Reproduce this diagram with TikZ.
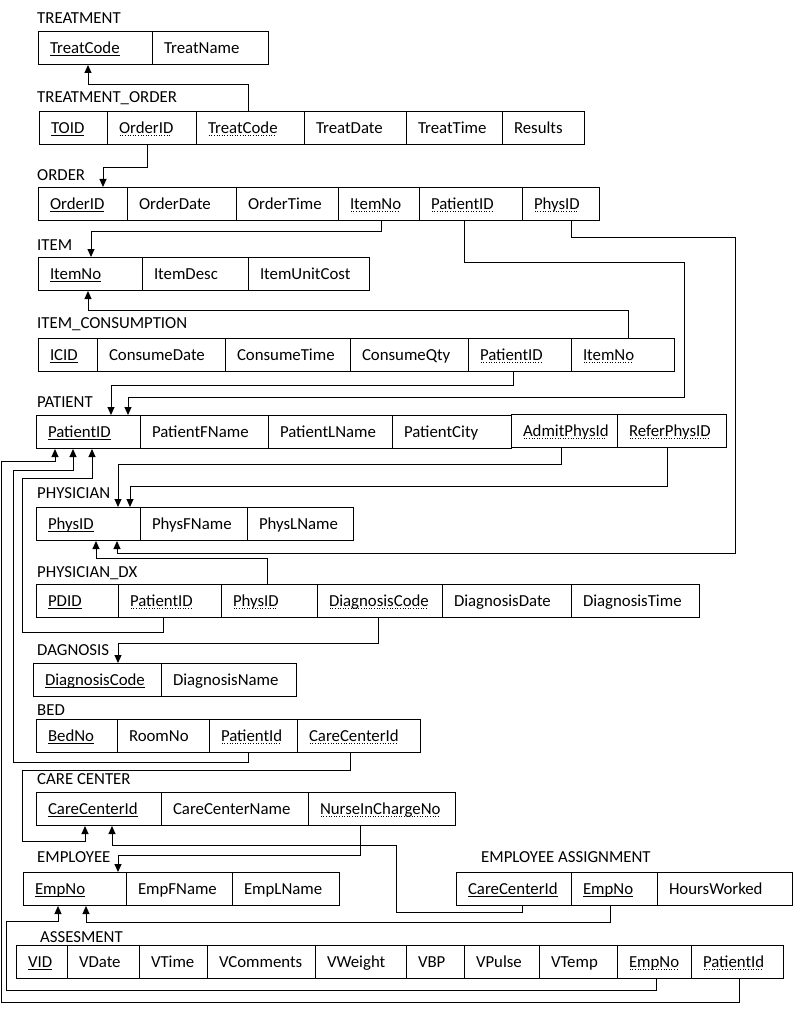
\documentclass[tikz,border=0pt]{standalone}
\usepackage{fontspec}
\setmainfont{Carlito}
\usetikzlibrary{arrows.meta}
\newsavebox\myulbox
\newcommand\pk[1]{\sbox\myulbox{#1}\rlap{\rule[-2.2pt]{\wd\myulbox}{0.8pt}}\usebox\myulbox}
\newcommand\fk[1]{\sbox\myulbox{#1}\rlap{\hbox to \wd\myulbox{\leaders\hbox to 2.6pt{\hss\rule[-2.6pt]{1pt}{0.8pt}\hss}\hfill}}\usebox\myulbox}
\newcommand\mycell[5]{%
  \pgfmathsetmacro\mycw{#3-#2}\pgfmathsetmacro\mytw{#3-#2-23}%
  \node[cellbox, minimum width=\mycw pt] (#1) at (#2,#4) {\hbox to \mytw pt{#5\hss}};}
\tikzset{
  cellbox/.style={draw, line width=1pt, anchor=north west, minimum height=33pt,
    inner xsep=11.5pt, inner ysep=0pt, text height=11pt, text depth=0pt,
    font=\fontsize{16.8}{18}\selectfont},
  ttl/.style={anchor=base west, inner sep=0pt, font=\fontsize{16.8}{18}\selectfont},
  link/.style={line width=1pt, -{Triangle[width=7pt,length=8pt]}}
}
\begin{document}
\begin{tikzpicture}[x=1pt,y=-1pt]
\useasboundingbox (0,0) rectangle (797,1024);
% titles
\node[ttl] (t-tr) at (37,24) {TREATMENT};
\node[ttl] (t-to) at (37,102.5) {TREATMENT\_ORDER};
\node[ttl] (t-or) at (37,180.5) {ORDER};
\node[ttl] (t-it) at (37,250.5) {ITEM};
\node[ttl] (t-ic) at (37,328.5) {ITEM\_CONSUMPTION};
\node[ttl] (t-pa) at (37,407.5) {PATIENT};
\node[ttl] (t-ph) at (37,498.5) {PHYSICIAN};
\node[ttl] (t-dx) at (37,577.5) {PHYSICIAN\_DX};
\node[ttl] (t-dg) at (37,655.5) {DAGNOSIS};
\node[ttl] (t-bd) at (37,715.5) {BED};
\node[ttl] (t-cc) at (37,784.5) {CARE CENTER};
\node[ttl] (t-em) at (37,862.5) {EMPLOYEE};
\node[ttl] (t-ea) at (481,862.5) {EMPLOYEE ASSIGNMENT};
\node[ttl] (t-as) at (40,942.5) {ASSESMENT};
% TREATMENT
\mycell{tr-tc}{38}{152}{31}{\pk{TreatCode}}
\mycell{tr-tn}{152}{268}{31}{TreatName}
% TREATMENT_ORDER
\mycell{to-id}{39}{107}{111}{\pk{TOID}}
\mycell{to-oid}{107}{196}{111}{\fk{OrderID}}
\mycell{to-tc}{196}{304}{111}{\fk{TreatCode}}
\mycell{to-td}{304}{406}{111}{TreatDate}
\mycell{to-tt}{406}{502}{111}{TreatTime}
\mycell{to-res}{502}{584}{111}{Results}
% ORDER
\mycell{or-id}{38}{127}{187}{\pk{OrderID}}
\mycell{or-date}{127}{236}{187}{OrderDate}
\mycell{or-time}{236}{338}{187}{OrderTime}
\mycell{or-item}{338}{419}{187}{\fk{ItemNo}}
\mycell{or-pat}{419}{522}{187}{\fk{PatientID}}
\mycell{or-phys}{522}{599}{187}{\fk{PhysID}}
% ITEM
\mycell{it-no}{38}{142}{257}{\pk{ItemNo}}
\mycell{it-desc}{142}{248}{257}{ItemDesc}
\mycell{it-cost}{248}{369}{257}{ItemUnitCost}
% ITEM_CONSUMPTION
\mycell{ic-id}{38}{97}{338}{\pk{ICID}}
\mycell{ic-date}{97}{225}{338}{ConsumeDate}
\mycell{ic-time}{225}{350}{338}{ConsumeTime}
\mycell{ic-qty}{350}{468}{338}{ConsumeQty}
\mycell{ic-pat}{468}{571}{338}{\fk{PatientID}}
\mycell{ic-item}{571}{674}{338}{\fk{ItemNo}}
% PATIENT
\mycell{pa-id}{36}{140}{415}{\pk{PatientID}}
\mycell{pa-fn}{140}{268}{415}{PatientFName}
\mycell{pa-ln}{268}{392}{415}{PatientLName}
\mycell{pa-city}{392}{511}{415}{PatientCity}
\mycell{pa-adm}{511}{617}{414}{\fk{AdmitPhysId}}
\mycell{pa-ref}{617}{726}{414}{\fk{ReferPhysID}}
% PHYSICIAN
\mycell{ph-id}{36}{140}{507}{\pk{PhysID}}
\mycell{ph-fn}{140}{247}{507}{PhysFName}
\mycell{ph-ln}{247}{353}{507}{PhysLName}
% PHYSICIAN_DX
\mycell{dx-id}{36}{118}{584}{\pk{PDID}}
\mycell{dx-pat}{118}{221}{584}{\fk{PatientID}}
\mycell{dx-phys}{221}{317}{584}{\fk{PhysID}}
\mycell{dx-code}{317}{442}{584}{\fk{DiagnosisCode}}
\mycell{dx-date}{442}{571}{584}{DiagnosisDate}
\mycell{dx-time}{571}{699}{584}{DiagnosisTime}
% DAGNOSIS
\mycell{dg-code}{33}{161}{663}{\pk{DiagnosisCode}}
\mycell{dg-name}{161}{296}{663}{DiagnosisName}
% BED
\mycell{bd-no}{36}{117}{719}{\pk{BedNo}}
\mycell{bd-room}{117}{209}{719}{RoomNo}
\mycell{bd-pat}{209}{297}{719}{\fk{PatientId}}
\mycell{bd-cc}{297}{420}{719}{\fk{CareCenterId}}
% CARE CENTER
\mycell{cc-id}{36}{161}{792}{\pk{CareCenterId}}
\mycell{cc-name}{161}{308}{792}{CareCenterName}
\mycell{cc-nurse}{308}{455}{792}{\fk{NurseInChargeNo}}
% EMPLOYEE
\mycell{em-no}{23}{126}{872}{\pk{EmpNo}}
\mycell{em-fn}{126}{232}{872}{EmpFName}
\mycell{em-ln}{232}{339}{872}{EmpLName}
% EMPLOYEE ASSIGNMENT
\mycell{ea-cc}{456}{571}{872}{\pk{CareCenterId}}
\mycell{ea-emp}{571}{657}{872}{\pk{EmpNo}}
\mycell{ea-hw}{657}{792}{872}{HoursWorked}
% ASSESMENT
\mycell{as-vid}{16}{67}{945}{\pk{VID}}
\mycell{as-vdate}{67}{139}{945}{VDate}
\mycell{as-vtime}{139}{207}{945}{VTime}
\mycell{as-vcom}{207}{315}{945}{VComments}
\mycell{as-vw}{315}{406}{945}{VWeight}
\mycell{as-vbp}{406}{464}{945}{VBP}
\mycell{as-vp}{464}{539}{945}{VPulse}
\mycell{as-vt}{539}{617}{945}{VTemp}
\mycell{as-emp}{617}{691}{945}{\fk{EmpNo}}
\mycell{as-pat}{691}{783}{945}{\fk{PatientId}}
% connectors
\draw[link] (248,0 |- to-tc.north) |- (88,85) -- (88,0 |- tr-tc.south);
\draw[link] (147,0 |- to-oid.south) |- (103,168) -- (103,0 |- or-id.north);
\draw[link] (381,0 |- or-item.south) |- (91,232) -- (91,0 |- it-no.north);
\draw[link] (628,0 |- ic-item.north) |- (88,310) -- (88,0 |- it-no.south);
\draw[link] (513,0 |- ic-pat.south) |- (111,385) -- (111,0 |- pa-id.north);
\draw[link] (464,0 |- or-pat.south) |- (684,262) |- (128,397) -- (128,0 |- pa-id.north);
\draw[link] (571,0 |- or-phys.south) |- (735,237) |- (117,553) -- (117,0 |- ph-id.south);
\draw[link] (561,0 |- pa-adm.south) |- (118,464) -- (118,0 |- ph-id.north);
\draw[link] (667,0 |- pa-ref.south) |- (130,486) -- (130,0 |- ph-id.north);
\draw[link] (267,0 |- dx-phys.north) |- (96,558) -- (96,0 |- ph-id.south);
\draw[link] (163,0 |- dx-pat.south) |- (22,632) |- (92,478) -- (92,0 |- pa-id.south);
\draw[link] (378,0 |- dx-code.south) |- (118,643) -- (118,0 |- dg-code.north);
\draw[link] (248,0 |- bd-pat.south) |- (13,762) |- (73,470) -- (73,0 |- pa-id.south);
\draw[link] (350,0 |- bd-cc.south) |- (22,770) |- (85,841) -- (85,0 |- cc-id.south);
\draw[link] (360,0 |- cc-nurse.south) |- (118,855) -- (118,0 |- em-no.north);
\draw[link] (522,0 |- ea-cc.south) |- (396,912) |- (112,845) -- (112,0 |- cc-id.south);
\draw[link] (610,0 |- ea-emp.south) |- (86,922) -- (86,0 |- em-no.south);
\draw[link] (656,0 |- as-emp.south) |- (6,990) |- (58,921) -- (58,0 |- em-no.south);
\draw[link] (739,0 |- as-pat.south) |- (1.5,1002) |- (55,461) -- (55,0 |- pa-id.south);
\end{tikzpicture}
\end{document}
